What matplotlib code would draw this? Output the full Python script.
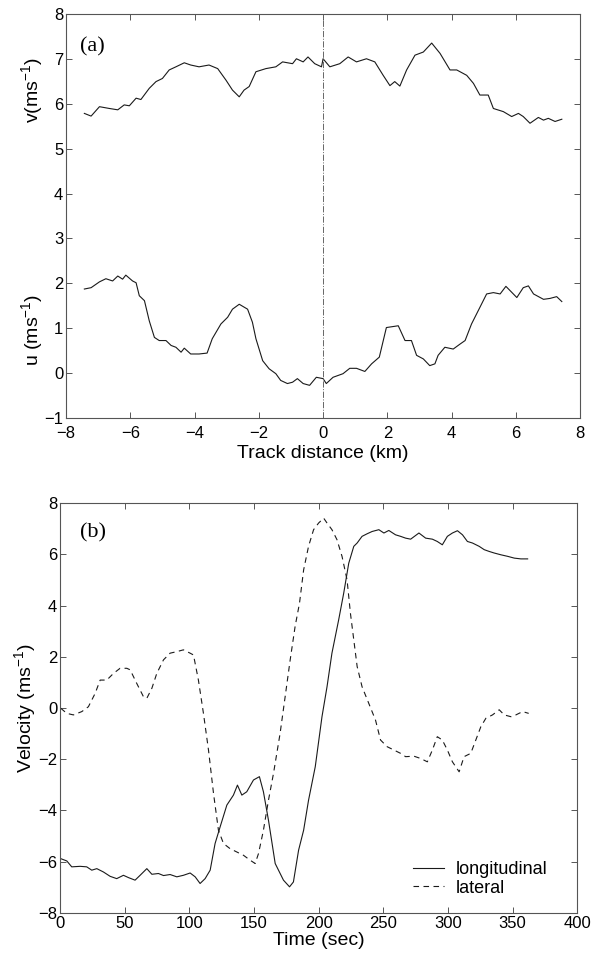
import matplotlib
matplotlib.use("Agg")
import matplotlib.pyplot as plt
import numpy as np

plt.rcParams['font.family'] = ['Liberation Sans', 'DejaVu Sans']
plt.rcParams['mathtext.fontset'] = 'custom'
plt.rcParams['mathtext.rm'] = 'Liberation Sans'
plt.rcParams['mathtext.it'] = 'Liberation Sans'

# panel (a): along-track wind components
track_v = [-7.43, -7.22, -6.96, -6.65, -6.39, -6.19, -6.03, -5.82, -5.67, -5.41, -5.20, -5.0,
           -4.79, -4.58, -4.32, -4.12, -3.86, -3.55, -3.28, -3.02, -2.82, -2.61, -2.46, -2.30,
           -2.09, -1.78, -1.47, -1.26, -0.95, -0.83, -0.62, -0.47, -0.26, -0.05, 0.0, 0.21,
           0.52, 0.78, 1.04, 1.35, 1.61, 1.87, 2.08, 2.23, 2.39, 2.60, 2.86, 3.12, 3.38, 3.64,
           3.95, 4.16, 4.47, 4.68, 4.88, 5.14, 5.30, 5.61, 5.87, 6.08, 6.23, 6.44, 6.70, 6.86,
           7.01, 7.22, 7.43]
v_vals = [5.79, 5.73, 5.94, 5.90, 5.87, 5.98, 5.96, 6.13, 6.10, 6.35, 6.50, 6.57,
          6.76, 6.83, 6.92, 6.87, 6.83, 6.87, 6.79, 6.53, 6.31, 6.16, 6.31, 6.39,
          6.72, 6.79, 6.83, 6.94, 6.90, 7.01, 6.94, 7.05, 6.90, 6.83, 7.01, 6.83,
          6.90, 7.05, 6.94, 7.01, 6.94, 6.64, 6.41, 6.50, 6.40, 6.76, 7.09, 7.16, 7.36, 7.13,
          6.76, 6.76, 6.64, 6.46, 6.20, 6.20, 5.90, 5.83, 5.72, 5.79, 5.72, 5.57, 5.70, 5.64,
          5.68, 5.61, 5.66]

track_u = [-7.43, -7.22, -6.96, -6.76, -6.55, -6.39, -6.24, -6.14, -5.93, -5.82, -5.72, -5.56,
           -5.41, -5.25, -5.10, -4.89, -4.73, -4.58, -4.42, -4.32, -4.12, -3.86, -3.61, -3.45,
           -3.18, -2.97, -2.82, -2.61, -2.35, -2.20, -2.09, -1.88, -1.68, -1.47, -1.32, -1.11,
           -0.95, -0.80, -0.62, -0.42, -0.21, 0.0, 0.10, 0.31, 0.62, 0.83, 1.04, 1.30, 1.51,
           1.75, 1.97, 2.34, 2.55, 2.75, 2.91, 3.12, 3.32, 3.48, 3.58, 3.79, 4.05, 4.26, 4.42,
           4.62, 4.88, 5.09, 5.30, 5.51, 5.69, 6.03, 6.23, 6.39, 6.55, 6.86, 7.06, 7.27, 7.43]
u_vals = [1.87, 1.90, 2.03, 2.10, 2.05, 2.16, 2.09, 2.18, 2.05, 2.01, 1.72, 1.61,
          1.16, 0.79, 0.72, 0.72, 0.61, 0.57, 0.46, 0.55, 0.42, 0.42, 0.44, 0.76,
          1.09, 1.24, 1.42, 1.53, 1.42, 1.13, 0.76, 0.27, 0.09, -0.02, -0.17, -0.24,
          -0.21, -0.13, -0.24, -0.28, -0.10, -0.13, -0.24, -0.10, -0.02, 0.10, 0.10, 0.03, 0.20,
          0.35, 1.01, 1.05, 0.72, 0.72, 0.39, 0.31, 0.16, 0.20, 0.39, 0.57, 0.53, 0.64, 0.72,
          1.09, 1.46, 1.76, 1.79, 1.76, 1.93, 1.68, 1.90, 1.94, 1.76, 1.64, 1.66, 1.70, 1.59]

# panel (b): time series
time_lon = [0.5, 5.2, 9.0, 15.5, 20.6, 24.5, 28.4, 33.5, 38.7, 43.8, 49.0, 52.9, 58.0, 61.9,
            67.1, 71.0, 76.1, 80.0, 85.1, 90.3, 95.4, 100.6, 104.5, 108.3, 112.2, 116.1, 119.9,
            123.8, 129.0, 134.1, 137.2, 140.6, 144.4, 149.6, 154.2, 157.3, 161.2, 166.4, 172.8,
            177.5, 180.5, 184.5, 188.4, 192.2, 197.4, 202.6, 206.5, 210.3, 215.5, 219.4, 223.3,
            227.2, 229.8, 233.6, 237.5, 241.4, 246.6, 250.5, 254.3, 259.5, 263.4, 267.3, 271.2,
            277.6, 282.8, 288.0, 291.8, 295.7, 299.6, 303.5, 307.4, 311.3, 315.1, 319.0, 324.2,
            328.1, 332.0, 335.8, 341.0, 346.2, 351.4, 356.5, 361.7]
longitudinal = [-5.88, -5.97, -6.20, -6.18, -6.20, -6.33, -6.27, -6.40, -6.57, -6.66, -6.53,
                -6.62, -6.72, -6.53, -6.27, -6.49, -6.46, -6.54, -6.50, -6.59, -6.53, -6.44,
                -6.59, -6.85, -6.66, -6.33, -5.29, -4.64, -3.79, -3.40, -3.01, -3.40, -3.27,
                -2.81, -2.68, -3.27, -4.38, -6.07, -6.72, -6.98, -6.79, -5.55, -4.77, -3.60,
                -2.29, -0.34, 0.83, 2.14, 3.44, 4.48, 5.65, 6.31, 6.44, 6.70, 6.80, 6.89, 6.96,
                6.83, 6.93, 6.76, 6.70, 6.63, 6.59, 6.83, 6.63, 6.59, 6.50, 6.37, 6.70, 6.83,
                6.92, 6.76, 6.50, 6.44, 6.31, 6.18, 6.11, 6.05, 5.98, 5.92, 5.85, 5.82, 5.82]

time_lat = [0.5, 5.2, 10.3, 16.8, 21.9, 27.1, 31.0, 36.1, 41.3, 46.4, 51.6, 54.2, 59.3, 64.5,
            67.1, 71.0, 74.8, 80.0, 85.1, 90.3, 95.4, 100.6, 103.2, 107.0, 110.9, 114.8, 118.7,
            122.5, 126.4, 131.5, 136.7, 141.9, 147.0, 150.9, 153.5, 157.3, 161.2, 165.1, 170.2,
            174.1, 178.0, 181.8, 185.2, 188.4, 192.2, 196.1, 200.0, 203.9, 206.5, 210.3, 214.2,
            218.1, 222.0, 224.6, 227.2, 229.8, 233.6, 238.8, 244.0, 247.9, 253.0, 258.2, 263.4,
            267.3, 273.7, 278.9, 284.1, 288.0, 291.8, 295.7, 299.6, 303.5, 308.7, 312.5, 317.7,
            321.6, 325.5, 329.4, 334.5, 339.7, 343.6, 348.8, 352.6, 357.8, 362.5]
lateral = [-0.01, -0.21, -0.27, -0.14, 0.05, 0.57, 1.09, 1.09, 1.35, 1.55, 1.55, 1.49, 0.96,
           0.44, 0.38, 0.77, 1.35, 1.88, 2.14, 2.20, 2.27, 2.14, 2.07, 1.09, -0.21, -1.64, -3.34,
           -4.77, -5.29, -5.49, -5.62, -5.75, -5.94, -6.07, -5.68, -4.77, -3.60, -2.55, -0.99,
           0.44, 1.88, 3.18, 4.09, 5.39, 6.31, 6.96, 7.22, 7.41, 7.22, 6.96, 6.57, 5.92, 5.00,
           3.70, 2.66, 1.62, 0.83, 0.18, -0.47, -1.25, -1.51, -1.64, -1.77, -1.90, -1.88, -1.97,
           -2.10, -1.64, -1.12, -1.25, -1.64, -2.10, -2.49, -1.90, -1.77, -1.25, -0.73, -0.40,
           -0.27, -0.07, -0.27, -0.34, -0.27, -0.14, -0.21]

line_col = '#1a1a1a'
spine_col = '#555555'
serif = ['Liberation Serif', 'DejaVu Serif']

fig = plt.figure(figsize=(5.95, 9.6), dpi=100)

def style(ax, xpad):
    ax.tick_params(direction='in', top=True, right=True, labelsize=12,
                   length=4.5, width=0.7, colors=spine_col, labelcolor='black')
    ax.tick_params(axis='x', pad=xpad)
    ax.tick_params(axis='y', pad=2)
    for s in ax.spines.values():
        s.set_color(spine_col)
        s.set_linewidth(0.8)

# top panel
ax1 = fig.add_axes([0.111, 0.565, 0.864, 0.42])
ax1.plot(track_v, v_vals, color=line_col, lw=0.8)
ax1.plot(track_u, u_vals, color=line_col, lw=0.8)
ax1.axvline(0, color='#666666', lw=0.7, linestyle='-.')
ax1.set_xlim(-8, 8)
ax1.set_ylim(-1, 8)
ax1.set_xticks(np.arange(-8, 9, 2))
ax1.set_yticks(np.arange(-1, 9, 1))
ax1.text(0.5, -0.088, 'Track distance (km)', transform=ax1.transAxes,
         ha='center', va='center', fontsize=14)
ax1.text(-0.066, 6.31, 'v(ms$^{-1}$)', transform=ax1.get_yaxis_transform(),
         rotation=90, ha='center', va='center', fontsize=14)
ax1.text(-0.066, 0.96, 'u (ms$^{-1}$)', transform=ax1.get_yaxis_transform(),
         rotation=90, ha='center', va='center', fontsize=14)
ax1.text(-7.17, 7.27, '(a)', family=serif, fontsize=16, ha='center', va='center')
style(ax1, 6)

# bottom panel
ax2 = fig.add_axes([0.101, 0.049, 0.869, 0.427])
ax2.plot(time_lon, longitudinal, color=line_col, lw=0.8, label='longitudinal')
ax2.plot(time_lat, lateral, color=line_col, lw=0.8, linestyle=(0, (5, 4)), label='lateral')
ax2.set_xlim(0, 400)
ax2.set_ylim(-8, 8)
ax2.set_xticks(np.arange(0, 401, 50))
ax2.set_yticks(np.arange(-8, 9, 2))
ax2.text(0.5, -0.068, 'Time (sec)', transform=ax2.transAxes,
         ha='center', va='center', fontsize=14)
ax2.text(-0.068, 0.5, 'Velocity (ms$^{-1}$)', transform=ax2.transAxes,
         rotation=90, ha='center', va='center', fontsize=14)
ax2.text(25.8, 6.83, '(b)', family=serif, fontsize=16, ha='center', va='center')
ax2.legend(loc='lower right', bbox_to_anchor=(0.975, 0.0), frameon=False,
           fontsize=13, handlelength=1.7, handletextpad=0.7, labelspacing=0.1)
style(ax2, 2)

fig.savefig('out.png', dpi=100)
